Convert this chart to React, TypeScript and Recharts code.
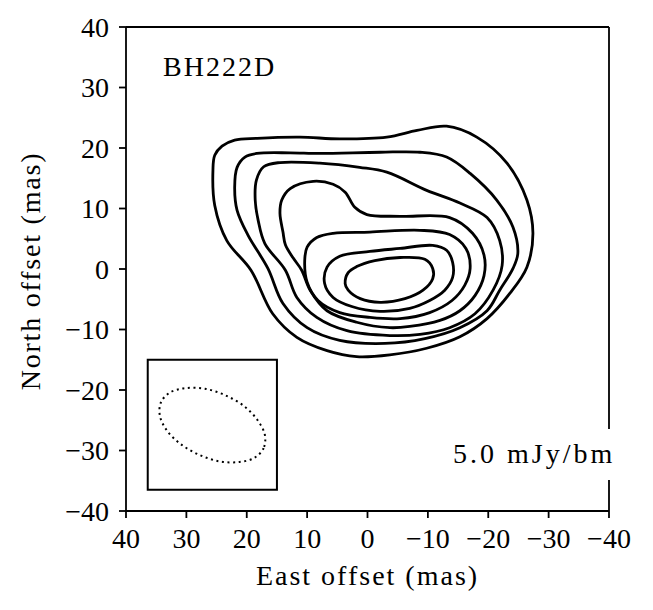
import { ScatterChart, Scatter, XAxis, YAxis, ReferenceArea } from "recharts";

// axis ticks (mas)
const axisTicks = [-40, -30, -20, -10, 0, 10, 20, 30, 40];

// contour levels, outermost first: [east offset, north offset] in mas
const contour1 = [
  [25.6, 16.3], [25.3, 18.8], [24.1, 20.3], [22.0, 21.3], [18.3, 21.6], [11.2, 21.8], [4.6, 21.5],
  [-3.2, 21.8], [-8.2, 22.9], [-13.1, 23.6], [-18.1, 21.8], [-23.1, 17.5], [-26.4, 11.4],
  [-27.4, 5.9], [-26.4, 0.3], [-23.6, -4.0], [-19.8, -8.2], [-15.3, -11.2], [-9.8, -13.1],
  [-3.7, -14.2], [1.8, -14.5], [6.7, -13.5], [11.7, -11.3], [15.7, -7.4], [19.3, -0.2],
  [23.3, 4.7], [25.3, 10.5],
];
const contour2 = [
  [22.0, 13.5], [21.6, 16.8], [20.3, 18.5], [18.3, 19.1], [12.8, 19.2], [7.9, 19.1], [-2.1, 19.3],
  [-8.7, 19.3], [-13.1, 18.5], [-17.0, 15.8], [-21.4, 11.4], [-24.1, 6.9], [-24.9, 2.6],
  [-24.1, 0.1], [-21.9, -3.5], [-19.8, -6.9], [-15.3, -9.7], [-9.5, -11.5], [-2.9, -12.3],
  [4.6, -11.8], [10.0, -9.7], [14.0, -5.7], [16.5, 0.1], [19.8, 5.6], [21.6, 9.7],
];
const contour3 = [
  [18.6, 11.4], [18.4, 14.7], [17.2, 16.9], [14.5, 17.6], [7.9, 17.5], [1.3, 16.8],
  [-3.2, 16.0], [-9.8, 13.0], [-15.3, 10.9], [-19.8, 8.5], [-21.9, 4.7], [-22.3, 0.6],
  [-20.8, -3.5], [-17.8, -7.4], [-13.6, -9.7], [-8.7, -10.8], [-3.7, -11.0], [3.4, -10.2],
  [8.4, -8.0], [11.7, -4.7], [13.6, -0.2], [17.0, 4.2], [18.1, 8.0],
];
const contour4 = [
  [14.5, 9.2], [14.2, 11.4], [12.8, 13.3], [9.0, 14.5], [5.7, 14.0], [3.7, 12.7],
  [2.1, 10.2], [0.1, 9.0], [-5.4, 8.7], [-13.6, 8.5], [-17.4, 5.9], [-19.3, 2.3],
  [-19.3, -1.1], [-17.8, -4.4], [-15.3, -6.9], [-12.0, -8.5], [-7.0, -9.5], [-3.7, -9.7],
  [1.8, -8.8], [6.7, -6.9], [9.5, -3.5], [10.9, -0.2], [12.3, 1.8], [13.6, 4.0], [14.0, 6.1],
];
const contour5 = [
  [10.4, 1.4], [10.0, 3.6], [8.4, 5.2], [5.7, 5.9], [-0.4, 6.1], [-8.7, 6.4],
  [-13.6, 5.7], [-16.3, 3.4], [-17.0, 0.1], [-16.1, -2.7], [-14.0, -5.2], [-10.3, -7.2],
  [-5.4, -8.2], [-0.4, -8.0], [4.6, -7.2], [8.2, -5.2], [10.0, -2.2],
];
const contour6 = [
  [7.1, -2.4], [6.7, 0.3], [4.6, 2.1], [-0.4, 2.9], [-5.4, 3.4], [-10.8, 3.9],
  [-13.1, 3.1], [-14.1, 1.1], [-14.1, -1.4], [-12.8, -3.5], [-10.3, -5.2], [-7.0, -6.5],
  [-2.1, -7.0], [2.6, -6.2], [5.7, -4.7],
];
const contour7 = [
  [3.7, -2.4], [3.2, -0.6], [1.8, 0.4], [-1.2, 1.4], [-5.4, 1.9], [-9.5, 1.6],
  [-10.8, 0.1], [-10.8, -1.6], [-9.2, -3.5], [-6.2, -4.9], [-2.1, -5.5], [1.2, -4.9], [3.2, -3.5],
];

// restoring beam outline and its box
const beam = [
  [17.2, -29.6], [18.7, -31.2], [21.2, -31.9], [24.5, -31.8], [27.9, -30.7], [31.0, -28.9],
  [33.3, -26.6], [34.4, -24.2], [34.2, -22.0], [32.7, -20.4], [30.2, -19.7], [26.9, -19.8],
  [23.5, -20.9], [20.4, -22.7], [18.2, -25.0], [17.0, -27.4],
];
const beamBoxX = [36.4, 15];
const beamBoxY = [-36.5, -15];

const contours = [contour1, contour2, contour3, contour4, contour5, contour6, contour7];

const toPts = (arr: number[][]) => arr.map(([x, y]) => ({ x, y }));
const fmt = (v: number) => String(v).replace("-", "\u2212");
const noDot = () => <g />;

type P = { x: number; y: number };

// closed centripetal Catmull-Rom path through the points Scatter has already scaled
function closedSpline(pts: P[]) {
  const n = pts.length;
  if (n < 3) return "";
  const p = (i: number) => pts[(i + n) % n];
  const dist = (a: P, b: P) => Math.hypot(b.x - a.x, b.y - a.y) || 1e-6;
  let d = `M${p(0).x},${p(0).y}`;
  for (let i = 0; i < n; i++) {
    const p0 = p(i - 1), p1 = p(i), p2 = p(i + 1), p3 = p(i + 2);
    const d01 = dist(p0, p1), d12 = dist(p1, p2), d23 = dist(p2, p3);
    const l01 = Math.sqrt(d01), l12 = Math.sqrt(d12), l23 = Math.sqrt(d23);
    const a = 2 * d01 + 3 * l01 * l12 + d12;
    const na = 3 * l01 * (l01 + l12);
    const c1x = (p1.x * a - p0.x * d12 + p2.x * d01) / na;
    const c1y = (p1.y * a - p0.y * d12 + p2.y * d01) / na;
    const b = 2 * d23 + 3 * l23 * l12 + d12;
    const nb = 3 * l23 * (l23 + l12);
    const c2x = (p2.x * b + p1.x * d23 - p3.x * d12) / nb;
    const c2y = (p2.y * b + p1.y * d23 - p3.y * d12) / nb;
    d += `C${c1x},${c1y},${c2x},${c2y},${p2.x},${p2.y}`;
  }
  return d + "Z";
}

const contourLine = (width: number, dash?: string) => (props: any) => (
  <path
    d={closedSpline(props.points)}
    fill="none"
    stroke="#000"
    strokeWidth={width}
    strokeDasharray={dash}
    strokeLinejoin="round"
  />
);

const serif = "Liberation Serif, DejaVu Serif, serif";
const tickStyle = { fill: "#000", fontSize: 28, fontFamily: serif };
const frame = { stroke: "#000", strokeWidth: 1.8 };

const textBase: React.CSSProperties = {
  position: "absolute",
  fontFamily: serif,
  fontSize: 28,
  lineHeight: "28px",
  color: "#000",
  whiteSpace: "nowrap",
};

export default function App() {
  return (
    <div style={{ position: "absolute", left: 0, top: 0, width: 653, height: 610 }}>
      <ScatterChart
        width={653}
        height={610}
        margin={{ top: 26, right: 43, left: 66, bottom: 49 }}
        style={{ fontFamily: serif }}
      >
        <XAxis
          type="number"
          dataKey="x"
          domain={[-40, 40]}
          ticks={axisTicks}
          reversed
          allowDataOverflow
          tickFormatter={fmt}
          tick={tickStyle}
          tickSize={7}
          tickMargin={10}
          height={50}
          axisLine={frame}
          tickLine={frame}
        />
        <YAxis
          type="number"
          dataKey="y"
          domain={[-40, 40]}
          ticks={axisTicks}
          allowDataOverflow
          tickFormatter={fmt}
          tick={tickStyle}
          tickSize={7}
          tickMargin={10}
          width={60}
          axisLine={frame}
          tickLine={frame}
        />
        <XAxis
          xAxisId="top"
          orientation="top"
          type="number"
          domain={[-40, 40]}
          tick={false}
          tickLine={false}
          height={1}
          axisLine={frame}
        />
        <YAxis
          yAxisId="right"
          orientation="right"
          type="number"
          domain={[-40, 40]}
          tick={false}
          tickLine={false}
          width={1}
          axisLine={frame}
        />
        <ReferenceArea
          x1={beamBoxX[0]}
          x2={beamBoxX[1]}
          y1={beamBoxY[0]}
          y2={beamBoxY[1]}
          fill="none"
          stroke="#000"
          strokeWidth={2}
          ifOverflow="visible"
        />
        {contours.map((c, i) => (
          <Scatter
            key={i}
            data={toPts(c)}
            fill="#000"
            line={contourLine(2.8)}
            shape={noDot}
            isAnimationActive={false}
          />
        ))}
        <Scatter
          data={toPts(beam)}
          fill="#000"
          line={contourLine(2, "2 3.6")}
          shape={noDot}
          isAnimationActive={false}
        />
      </ScatterChart>

      <div style={{ ...textBase, left: 163, top: 52.6, letterSpacing: 2 }}>BH222D</div>
      <div
        style={{
          ...textBase,
          left: 449,
          top: 428.6,
          padding: "11px 4px 12px 4px",
          background: "#fff",
          letterSpacing: 3,
        }}
      >
        5.0 mJy/bm
      </div>
      <div
        style={{
          ...textBase,
          left: 367.5,
          top: 561.6,
          letterSpacing: 2,
          transform: "translateX(-50%)",
        }}
      >
        East offset (mas)
      </div>
      <div
        style={{
          ...textBase,
          left: 30.6,
          top: 271,
          letterSpacing: 1.8,
          transform: "translate(-50%, -50%) rotate(-90deg)",
        }}
      >
        North offset (mas)
      </div>
    </div>
  );
}
